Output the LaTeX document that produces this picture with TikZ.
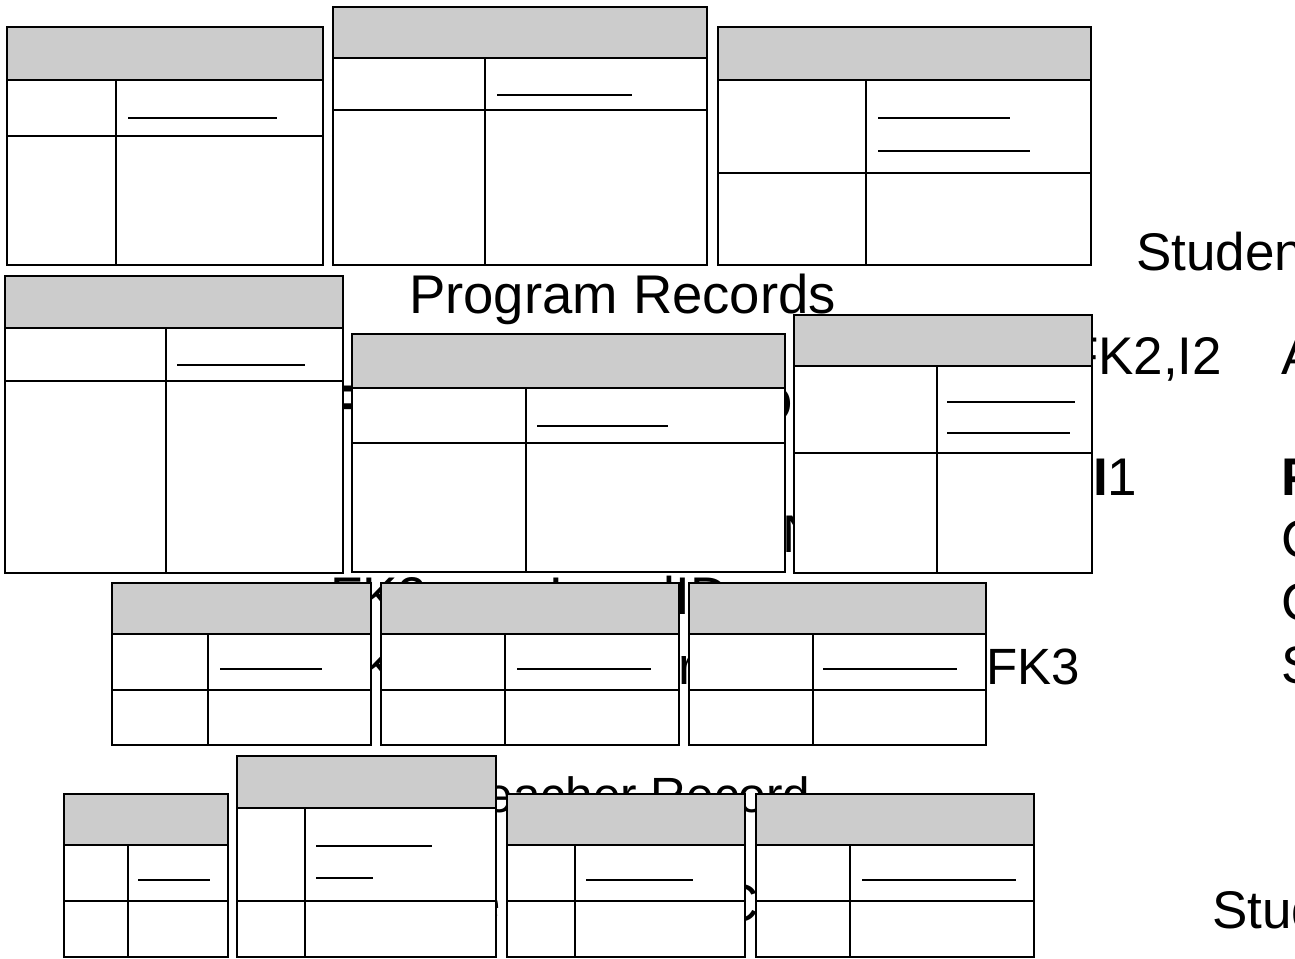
\documentclass[tikz,border=0pt]{standalone}
\usepackage{fontspec}
\setmainfont{Liberation Sans}
\definecolor{hdrgray}{HTML}{CCCCCC}
\tikzset{
  erline/.style={draw=black, line width=1.5pt},
  ulline/.style={draw=black, line width=1.5pt},
  txt/.style={anchor=base west, inner sep=0pt, outer sep=0pt, font=\fontsize{53}{60}\selectfont},
  txte/.style={anchor=base east, inner sep=0pt, outer sep=0pt, font=\fontsize{53}{60}\selectfont},
}
\newcommand\erbox[8]{%
  \fill[white] (#1,#2) rectangle (#3,#4);
  \fill[hdrgray] (#1,#2) rectangle (#3,#5);
  \draw[erline] (#1,#5) -- (#3,#5) (#1,#6) -- (#3,#6) (#7,#5) -- (#7,#4);
  \draw[erline] (#1,#2) rectangle (#3,#4);
  \coordinate (#8) at (#1,#2);
}
\begin{document}
\begin{tikzpicture}[x=1pt,y=-1pt]
\useasboundingbox (0,0) rectangle (1295,958);
\clip (0,0) rectangle (1295,958);
% text layer (mostly hidden beneath the tables)
\node[txt, font=\fontsize{54.5}{60}\selectfont] (progrec) at (409,313) {Program Records};
\node[txt] (studrec) at (1136,270) {Student Records};
\node[txt] (fk2i2) at (1066,374) {FK2,I2};
\node[txt] (colA) at (1281,374) {A};
\node[txt] (i1) at (1093,495) {\textbf{I}1};
\node[txt] (colP) at (1281,495) {\textbf{P}};
\node[txt] (colC1) at (1281,557) {C};
\node[txt] (colC2) at (1281,620) {C};
\node[txt] (colS) at (1281,683) {S};
\node[txt] (pk) at (332,422) {\textbf{PK}};
\node[txte] (progid) at (793,422) {\textbf{ProgramID}};
\node[txt] (nrow) at (782,552) {N};
\node[txt] (fk2) at (330,614) {FK2};
\node[txt] (levelid) at (549,614) {LevelID};
\node[txt] (fk3a) at (330,684) {FK3};
\node[txt] (term) at (622,684) {Term};
\node[txt, font=\fontsize{51}{60}\selectfont] (fk3b) at (986,684) {FK3};
\node[txt, font=\fontsize{49.5}{60}\selectfont] (teachrec) at (461,812) {Teacher Record};
\node[txte] (erow) at (501,921) {e};
\node[txt] (crow) at (720,921) {C};
\node[txt] (studbot) at (1212,928) {Student};
% tables
\erbox{7}{27}{323}{265}{80}{136}{116}{t1}
\draw[ulline] (128,118) -- (277,118);
\erbox{333}{7}{707}{265}{58}{110}{485}{t2}
\draw[ulline] (497,95) -- (632,95);
\erbox{718}{27}{1091}{265}{80}{173}{866}{t3}
\draw[ulline] (878,118) -- (1010,118) (878,151) -- (1030,151);
\erbox{5}{276}{343}{573}{328}{381}{166}{t4}
\draw[ulline] (177,365) -- (305,365);
\erbox{352}{334}{785}{572}{388}{443}{526}{t5}
\draw[ulline] (537,426) -- (668,426);
\erbox{794}{315}{1092}{573}{366}{453}{937}{t6}
\draw[ulline] (947,402) -- (1075,402) (947,433) -- (1070,433);
\erbox{112}{583}{371}{745}{634}{690}{208}{t7}
\draw[ulline] (220,669) -- (322,669);
\erbox{381}{583}{679}{745}{634}{690}{505}{t8}
\draw[ulline] (517,669) -- (651,669);
\erbox{689}{583}{986}{745}{634}{690}{813}{t9}
\draw[ulline] (823,669) -- (957,669);
\erbox{64}{794}{228}{957}{845}{901}{128}{t10}
\draw[ulline] (138,880) -- (210,880);
\erbox{237}{756}{496}{957}{808}{901}{305}{t11}
\draw[ulline] (316,846) -- (432,846) (316,878) -- (373,878);
\erbox{507}{794}{745}{957}{845}{901}{575}{t12}
\draw[ulline] (586,880) -- (693,880);
\erbox{756}{794}{1034}{957}{845}{901}{850}{t13}
\draw[ulline] (862,880) -- (1016,880);
\end{tikzpicture}
\end{document}
